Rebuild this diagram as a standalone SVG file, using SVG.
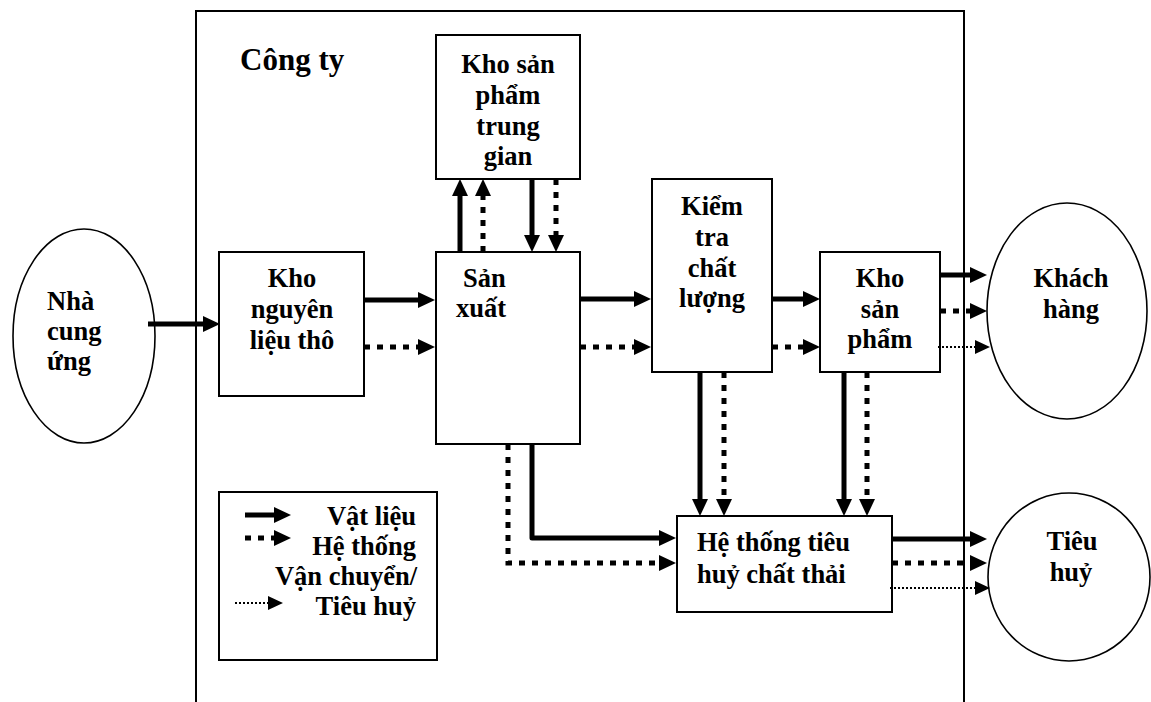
<svg xmlns="http://www.w3.org/2000/svg" width="1151" height="702" viewBox="0 0 1151 702">
  <style>
    .box { fill: #fff; stroke: #000; stroke-width: 2; }
    .oval { fill: #fff; stroke: #000; stroke-width: 1.6; }
    .lbl { font-family: "Liberation Serif", "Times New Roman", serif; font-weight: bold; font-size: 26.5px; fill: #000; }
    .mid { text-anchor: middle; }
    .end { text-anchor: end; }
    .mat { fill: none; stroke: #000; stroke-width: 5; stroke-linejoin: round; marker-end: url(#head); }
    .sys { fill: none; stroke: #000; stroke-width: 5; stroke-dasharray: 6 7; marker-end: url(#head); }
    .trn { fill: none; stroke: #000; stroke-width: 1.8; stroke-dasharray: 2 2; marker-end: url(#headSmall); }
  </style>
  <defs>
    <marker id="head" markerUnits="userSpaceOnUse" markerWidth="17" markerHeight="16" refX="5" refY="8" orient="auto">
      <path d="M0,0 L17,8 L0,16 Z" fill="#000"/>
    </marker>
    <marker id="headSmall" markerUnits="userSpaceOnUse" markerWidth="15" markerHeight="14" refX="3" refY="7" orient="auto">
      <path d="M0,0 L15,7 L0,14 Z" fill="#000"/>
    </marker>
  </defs>

  <rect width="1151" height="702" fill="#fff"/>

  <!-- company boundary, open at the bottom -->
  <g id="company">
    <path d="M196,702 V11 H964 V702" fill="none" stroke="#000" stroke-width="2"/>
    <text class="lbl" x="240" y="70" style="font-size:31px">Công ty</text>
  </g>

  <g id="supplier">
    <ellipse class="oval" cx="84" cy="336" rx="71" ry="107"/>
    <text class="lbl" x="47" y="310">Nhà</text>
    <text class="lbl" x="47" y="340">cung</text>
    <text class="lbl" x="47" y="370">ứng</text>
  </g>

  <g id="raw-store">
    <rect class="box" x="219" y="252" width="145" height="144"/>
    <text class="lbl mid" x="292" y="287">Kho</text>
    <text class="lbl mid" x="292" y="318">nguyên</text>
    <text class="lbl mid" x="292" y="349">liệu thô</text>
  </g>

  <g id="wip-store">
    <rect class="box" x="436" y="35" width="144" height="144"/>
    <text class="lbl mid" x="508" y="73">Kho sản</text>
    <text class="lbl mid" x="508" y="104">phẩm</text>
    <text class="lbl mid" x="508" y="135">trung</text>
    <text class="lbl mid" x="508" y="165">gian</text>
  </g>

  <g id="production">
    <rect class="box" x="436" y="252" width="144" height="192"/>
    <text class="lbl" x="463" y="287">Sản</text>
    <text class="lbl" x="456" y="317">xuất</text>
  </g>

  <g id="quality-check">
    <rect class="box" x="652" y="179" width="120" height="193"/>
    <text class="lbl mid" x="712" y="215">Kiểm</text>
    <text class="lbl mid" x="712" y="246">tra</text>
    <text class="lbl mid" x="712" y="277">chất</text>
    <text class="lbl mid" x="712" y="307">lượng</text>
  </g>

  <g id="product-store">
    <rect class="box" x="820" y="252" width="120" height="120"/>
    <text class="lbl mid" x="880" y="287">Kho</text>
    <text class="lbl mid" x="880" y="318">sản</text>
    <text class="lbl mid" x="880" y="348">phẩm</text>
  </g>

  <g id="customer">
    <ellipse class="oval" cx="1067" cy="311" rx="80" ry="108"/>
    <text class="lbl mid" x="1071" y="287">Khách</text>
    <text class="lbl mid" x="1071" y="318">hàng</text>
  </g>

  <g id="waste-system">
    <rect class="box" x="677" y="516" width="215" height="96"/>
    <text class="lbl" x="697" y="551">Hệ thống tiêu</text>
    <text class="lbl" x="697" y="583">huỷ chất thải</text>
  </g>

  <g id="disposal">
    <ellipse class="oval" cx="1069" cy="577" rx="81" ry="84"/>
    <text class="lbl mid" x="1072" y="550">Tiêu</text>
    <text class="lbl mid" x="1071" y="581">huỷ</text>
  </g>

  <g id="legend">
    <rect class="box" x="219" y="492" width="218" height="168"/>
    <path class="mat" d="M245,515 H279"/>
    <path class="sys" d="M245,538 H279"/>
    <path class="trn" d="M235,603 H271"/>
    <text class="lbl end" x="416" y="525">Vật liệu</text>
    <text class="lbl end" x="416" y="555">Hệ thống</text>
    <text class="lbl end" x="417" y="585">Vận chuyển/</text>
    <text class="lbl end" x="416" y="615">Tiêu huỷ</text>
  </g>

  <g id="connectors">
    <path class="mat" d="M148,324 H208"/>
    <path class="mat" d="M364,300 H423"/>
    <path class="sys" d="M364,347 H423"/>
    <path class="mat" d="M460,252 V191"/>
    <path class="sys" d="M483,252 V191"/>
    <path class="mat" d="M532,179 V240"/>
    <path class="sys" d="M556,179 V240"/>
    <path class="mat" d="M580,299 H639"/>
    <path class="sys" d="M580,347 H639"/>
    <path class="mat" d="M772,299 H808"/>
    <path class="sys" d="M772,347 H808"/>
    <path class="mat" d="M940,275 H975"/>
    <path class="sys" d="M940,311 H975"/>
    <path class="trn" d="M938,347 H978"/>
    <path class="mat" d="M700,372 V504"/>
    <path class="sys" d="M724,372 V504"/>
    <path class="mat" d="M844,372 V504"/>
    <path class="sys" d="M867,372 V504"/>
    <path class="mat" d="M532,444 V538 H664"/>
    <path class="sys" d="M508,444 V563 H664"/>
    <path class="mat" d="M892,539 H975"/>
    <path class="sys" d="M892,563 H975"/>
    <path class="trn" d="M890,588 H978"/>
  </g>
</svg>
